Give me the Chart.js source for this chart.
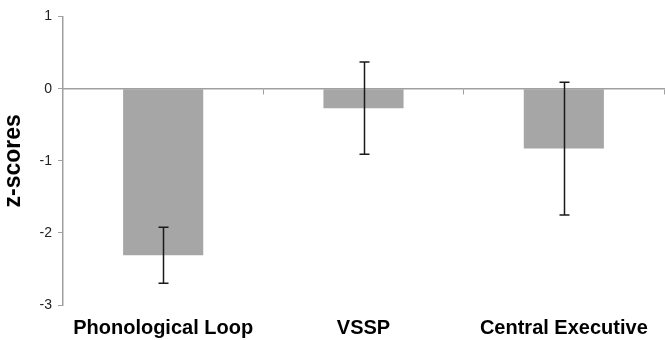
<!DOCTYPE html>
<html lang="en">
  <head>
    <meta charset="UTF-8" />
    <title>z-scores</title>
    <style>
      * { margin: 0; padding: 0; box-sizing: border-box; }
      body { background: #fff; }
      #grafico { width: 665px; height: 340px; }
    </style>
  </head>
  <body>
    <div id="grafico">
      <canvas id="grafico1"></canvas>
    </div>

    <script src="https://cdn.jsdelivr.net/npm/chart.js"></script>
    <script>
      const categorias = ['Phonological Loop', 'VSSP', 'Central Executive']
      const medias = [-2.31, -0.27, -0.83]
      const erros = [0.39, 0.64, 0.92]
      const yTicks = [1, 0, -1, -2, -3]

      const corEixo = '#a0a0a0'

      // barras de erro desenhadas pela escala
      const barrasErro = {
        id: 'barrasErro',
        afterDatasetsDraw(chart) {
          const { ctx, scales } = chart
          const x = scales.x, y = scales.y
          ctx.save()
          ctx.strokeStyle = '#1a1a1a'
          ctx.lineWidth = 1.5
          medias.forEach((m, i) => {
            const cx = Math.round(x.getPixelForValue(i)) + 0.5
            const top = y.getPixelForValue(m + erros[i])
            const bot = y.getPixelForValue(m - erros[i])
            ctx.beginPath()
            ctx.moveTo(cx, top); ctx.lineTo(cx, bot)
            ctx.moveTo(cx - 5, top); ctx.lineTo(cx + 5, top)
            ctx.moveTo(cx - 5, bot); ctx.lineTo(cx + 5, bot)
            ctx.stroke()
          })
          ctx.restore()
        }
      }

      const ctx = document.getElementById('grafico1')

      new Chart(ctx, {
        type: 'bar',
        data: {
          labels: categorias,
          datasets: [{
            data: medias,
            backgroundColor: '#a6a6a6',
            borderWidth: 0,
            categoryPercentage: 0.4,
            barPercentage: 1.0
          }]
        },
        options: {
          responsive: true,
          maintainAspectRatio: false,
          animation: false,
          layout: { padding: { top: 16.6, right: 1, left: 0, bottom: 0 } },
          plugins: {
            legend: { display: false },
            tooltip: { enabled: false }
          },
          scales: {
            x: {
              type: 'category',
              position: { y: 0 },
              offset: true,
              grid: {
                offset: true,
                drawOnChartArea: false,
                drawTicks: true,
                tickLength: 5,
                color: corEixo
              },
              border: { color: corEixo, width: 1.5 },
              ticks: { display: false }
            },
            x2: {
              type: 'category',
              labels: categorias,
              position: 'bottom',
              offset: true,
              grid: { display: false, drawTicks: false },
              border: { display: false },
              ticks: {
                padding: 11,
                color: '#000',
                font: { family: 'Liberation Sans', size: 20, weight: 'bold' }
              },
              afterFit(axis) { axis.height = 35 }
            },
            y: {
              min: -3,
              max: 1,
              afterBuildTicks(axis) {
                axis.ticks = yTicks.map(v => ({ value: v }))
              },
              grid: {
                drawOnChartArea: false,
                drawTicks: true,
                tickLength: 5,
                color: corEixo
              },
              border: { color: corEixo, width: 1.5 },
              ticks: {
                padding: 6,
                color: '#222',
                font: { family: 'Liberation Sans', size: 14 }
              },
              title: {
                display: true,
                text: 'z-scores',
                color: '#000',
                padding: { top: 0, bottom: 2 },
                font: { family: 'Liberation Sans', size: 23, weight: 'bold' }
              },
              afterFit(axis) { axis.width = 63 }
            }
          }
        },
        plugins: [barrasErro]
      })
    </script>
  </body>
</html>
